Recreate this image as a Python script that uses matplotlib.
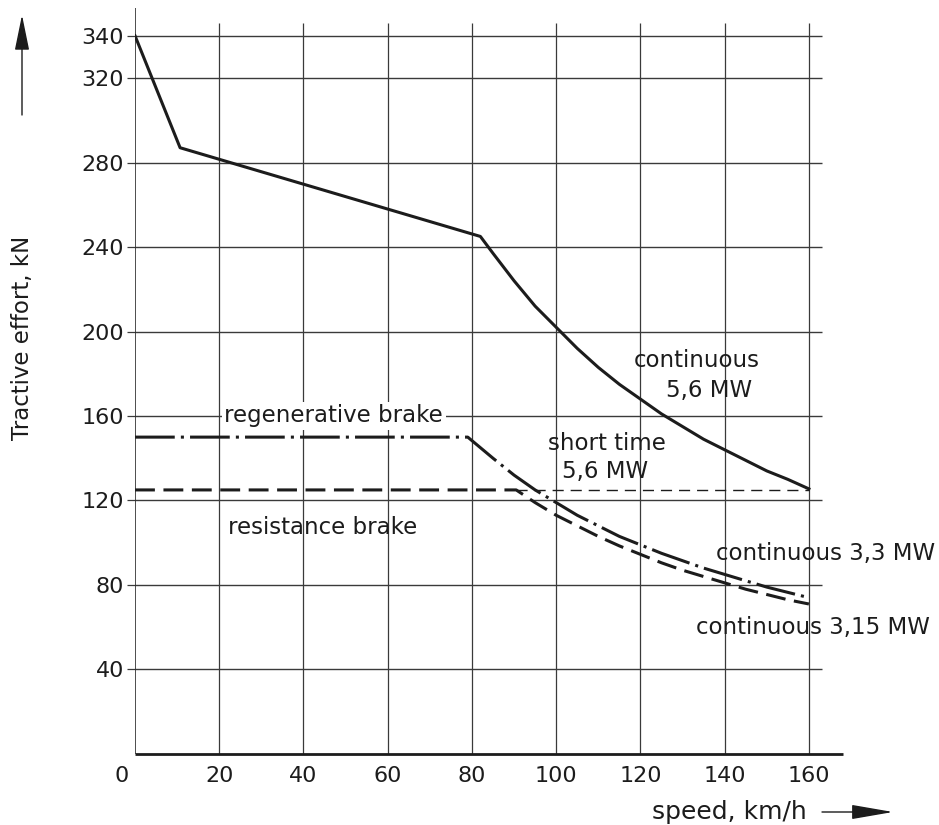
import matplotlib.pyplot as plt
from matplotlib.transforms import ScaledTranslation

# values (speed in km/h, tractive effort in kN)
speed_cont = [0, 10.7, 82, 85, 90, 95, 100, 105, 110, 115, 120, 125, 130, 135, 140, 145, 150, 155, 160]
effort_cont = [340, 287, 245, 237, 224, 212, 202, 192, 183, 175, 168, 161, 155, 149, 144, 139, 134, 130, 125.5]

speed_regen = [0, 79, 85, 90, 95, 100, 105, 110, 115, 120, 125, 130, 135, 140, 145, 150, 155, 160]
effort_regen = [150, 150, 140, 132, 125, 119, 113, 108, 103, 99, 95, 91.5, 88, 85, 82, 79, 76.5, 74]

speed_resist = [0, 90.5, 95, 100, 105, 110, 115, 120, 125, 130, 135, 140, 145, 150, 155, 160]
effort_resist = [125, 125, 119, 113, 108, 103, 98.5, 94.5, 90.5, 87, 84, 81, 78, 75.5, 73, 71]

speed_short = [90.5, 160]
effort_short = [125, 125]

ytick_vals = [40, 80, 120, 160, 200, 240, 280, 320, 340]
xtick_vals = [0, 20, 40, 60, 80, 100, 120, 140, 160]

ink = '#1c1c1c'
gridc = '#3a3a3a'

fig = plt.figure(figsize=(9.39, 8.25), dpi=100)
ax = fig.add_axes([0.1438, 0.0861, 0.7625, 0.9115])
ax.set_xlim(0, 170)
ax.set_ylim(0, 356)
for s in ax.spines.values():
    s.set_visible(False)

# grid drawn by hand, it does not fill the whole axes
ax.hlines(ytick_vals, 0, 163, color=gridc, lw=1.0, zorder=1)
ax.vlines(xtick_vals[1:], 0, 346, color=gridc, lw=0.9, zorder=1)
ax.vlines(0, 0, 353, color=ink, lw=1.1, zorder=2)
ax.hlines(0, 0, 168, color=ink, lw=2.0, zorder=2, clip_on=False)

ax.set_yticks(ytick_vals)
ax.set_yticklabels([str(v) for v in ytick_vals])
ax.tick_params(axis='y', length=6, width=0.9, pad=2, labelsize=16, color=gridc, labelcolor=ink)
ax.set_xticks(xtick_vals)
ax.set_xticklabels([str(v) for v in xtick_vals])
ax.tick_params(axis='x', length=0, pad=9, labelsize=16, labelcolor=ink)
lbl0 = ax.get_xticklabels()[0]
lbl0.set_transform(lbl0.get_transform() + ScaledTranslation(-0.13, 0, fig.dpi_scale_trans))

ax.plot(speed_cont, effort_cont, color=ink, lw=2.2, zorder=4)
ax.plot(speed_regen, effort_regen, color=ink, lw=2.2, linestyle=(0, (13, 2, 1, 2)), zorder=4)
ax.plot(speed_resist, effort_resist, color=ink, lw=2.2, linestyle=(0, (6.5, 2.8)), zorder=4)
ax.plot(speed_short, effort_short, color=ink, lw=1.0, linestyle=(0, (8, 5)), zorder=3)

fs = 16.5
ax.text(133.3, 186.5, 'continuous', fontsize=fs, color=ink, ha='center', va='center')
ax.text(136.3, 172.3, '5,6 MW', fontsize=fs, color=ink, ha='center', va='center')
ax.text(21.2, 160, 'regenerative brake', fontsize=fs, color=ink, ha='left', va='center',
        bbox=dict(facecolor='white', edgecolor='none', pad=2), zorder=5)
ax.text(22, 107, 'resistance brake', fontsize=fs, color=ink, ha='left', va='center')
ax.text(112, 147, 'short time', fontsize=fs, color=ink, ha='center', va='center')
ax.text(111.6, 133.5, '5,6 MW', fontsize=fs, color=ink, ha='center', va='center')
ax.text(138, 95, 'continuous 3,3 MW', fontsize=fs, color=ink, ha='left', va='center')
ax.text(133.3, 59.7, 'continuous 3,15 MW', fontsize=fs, color=ink, ha='left', va='center')

fig.text(23 / 939, 1 - 338 / 825, 'Tractive effort, kN', rotation=90, fontsize=16.5,
         color=ink, ha='center', va='center')
fig.text(729 / 939, 1 - 812 / 825, 'speed, km/h', fontsize=18, color=ink, ha='center', va='center')

ax.annotate('', xy=(22, 810), xytext=(22, 710), xycoords='figure pixels', textcoords='figure pixels',
            arrowprops=dict(arrowstyle='-|>,head_length=22,head_width=4.5', mutation_scale=1,
                            lw=1.0, color=ink, shrinkA=0, shrinkB=0))
ax.annotate('', xy=(893, 13), xytext=(822, 13), xycoords='figure pixels', textcoords='figure pixels',
            arrowprops=dict(arrowstyle='-|>,head_length=26,head_width=4.5', mutation_scale=1,
                            lw=1.0, color=ink, shrinkA=0, shrinkB=0))

plt.savefig('out.png', dpi=100, facecolor='white')
